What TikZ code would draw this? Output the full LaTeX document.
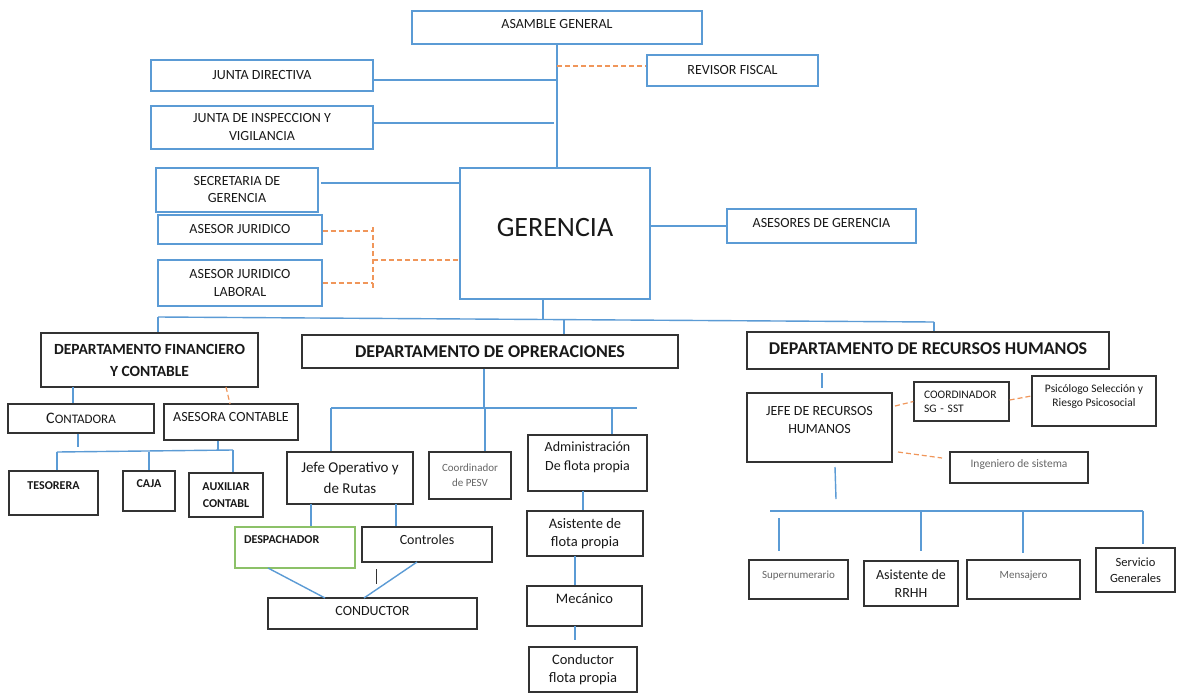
\documentclass[tikz,border=0pt]{standalone}
\usepackage{fontspec}
\setmainfont{Carlito}
\usetikzlibrary{positioning}

\definecolor{lineblue}{HTML}{5B9BD5}
\definecolor{dashorange}{HTML}{F0965A}
\definecolor{lightgreen}{HTML}{8CC168}

\tikzset{
	bluebox/.style={draw=lineblue, line width=1.3pt, fill=white, inner sep=0pt, align=center, text=black!90},
	darkbox/.style={draw=black!80, line width=1.3pt, fill=white, inner sep=0pt, align=center, text=black!90},
	greenbox/.style={draw=lightgreen, line width=1.3pt, fill=white, inner sep=0pt, text=black!90},
	conn/.style={draw=lineblue, line width=1.4pt},
	orangedash/.style={draw=dashorange, line width=1.2pt, dash pattern=on 5pt off 3pt},
	greytext/.style={text=black!60}
}

\begin{document}
\begin{tikzpicture}[x=1pt,y=-1pt]
		\useasboundingbox (0,0) rectangle (1177,696);
		\fill[white] (0,0) rectangle (1177,696);

		\node[bluebox, minimum width=290, minimum height=33, text depth=7, font=\fontsize{14}{18}\selectfont] (asamblea) at (557,27.5) {ASAMBLE GENERAL};
		\node[bluebox, minimum width=222, minimum height=31, font=\fontsize{14}{18}\selectfont] (junta) at (262,75.5) {JUNTA DIRECTIVA};
		\node[bluebox, minimum width=222, minimum height=43, font=\fontsize{14}{18}\selectfont] (inspeccion) at (262,127.5) {JUNTA DE INSPECCION Y\\VIGILANCIA};
		\node[bluebox, minimum width=171, minimum height=31, font=\fontsize{14}{18}\selectfont] (revisor) at (732.5,70.5) {REVISOR FISCAL};
		\node[bluebox, minimum width=162, minimum height=44, font=\fontsize{14}{17}\selectfont] (secretaria) at (237,190) {SECRETARIA DE\\GERENCIA};
		\node[bluebox, minimum width=164, minimum height=29, font=\fontsize{14}{18}\selectfont] (juridico) at (240,229.5) {ASESOR JURIDICO};
		\node[bluebox, minimum width=164, minimum height=46, font=\fontsize{14}{18}\selectfont] (laboral) at (240,283) {ASESOR JURIDICO\\LABORAL};
		\node[bluebox, minimum width=190, minimum height=131, text depth=13, font=\fontsize{28}{32}\selectfont] (gerencia) at (555,233.5) {GERENCIA};
		\node[bluebox, minimum width=189, minimum height=34, text depth=6, font=\fontsize{14}{18}\selectfont] (asesores) at (821.5,226) {ASESORES DE GERENCIA};

		\node[darkbox, minimum width=217, minimum height=54, font=\bfseries\fontsize{15.5}{22}\selectfont] (dfc) at (149.5,360) {DEPARTAMENTO FINANCIERO\\Y CONTABLE};
		\node[darkbox, minimum width=376, minimum height=33, font=\bfseries\fontsize{18}{22}\selectfont] (dops) at (490,351.5) {DEPARTAMENTO DE OPRERACIONES};
		\node[darkbox, minimum width=362, minimum height=37, text depth=4, font=\bfseries\fontsize{18}{22}\selectfont] (drrhh) at (928,350.5) {DEPARTAMENTO DE RECURSOS HUMANOS};

		\node[darkbox, minimum width=146, minimum height=29] (contadora) at (81,418.5) {{\fontsize{16}{18}\selectfont C}{\fontsize{13}{16}\selectfont ONTADORA}};
		\node[darkbox, minimum width=134, minimum height=36, text depth=10, font=\fontsize{14}{18}\selectfont] (asesora) at (231,422) {ASESORA CONTABLE};
		\node[darkbox, minimum width=89, minimum height=44, text depth=14, font=\bfseries\fontsize{12}{17}\selectfont] (tesorera) at (53.5,493) {TESORERA};
		\node[darkbox, minimum width=52, minimum height=40, text depth=14, font=\bfseries\fontsize{12}{17}\selectfont] (caja) at (149,491) {CAJA};
		\node[darkbox, minimum width=74, minimum height=44, font=\bfseries\fontsize{12}{17}\selectfont] (auxiliar) at (226,495) {AUXILIAR\\CONTABL};

		\node[darkbox, minimum width=126, minimum height=52, font=\fontsize{15}{21}\selectfont] (jefeop) at (350,478) {Jefe Operativo y\\de Rutas};
		\node[darkbox, greytext, minimum width=82, minimum height=47, font=\fontsize{11}{15}\selectfont] (pesv) at (470,475.5) {Coordinador\\de PESV};
		\node[darkbox, minimum width=119, minimum height=56, text depth=14, font=\fontsize{14}{19}\selectfont] (admin) at (587.5,463) {Administración\\De flota propia};
		\node[greenbox, minimum height=41, inner xsep=9pt, text width=102, align=left, text depth=15, font=\bfseries\fontsize{12}{14}\selectfont] (despachador) at (295,547.5) {DESPACHADOR};
		\node[darkbox, minimum width=130, minimum height=35, text depth=9, font=\fontsize{14}{18}\selectfont] (controles) at (427,544.5) {Controles};
		\node[darkbox, minimum width=209, minimum height=31, text depth=5, font=\fontsize{14}{18}\selectfont] (conductor) at (372.5,613.5) {CONDUCTOR};
		\node[darkbox, minimum width=116, minimum height=45, font=\fontsize{14.5}{18}\selectfont] (asistflota) at (585,533.5) {Asistente de\\flota propia};
		\node[darkbox, minimum width=115, minimum height=40, text depth=14, font=\fontsize{14.5}{18}\selectfont] (mecanico) at (584.5,606) {Mecánico};
		\node[darkbox, minimum width=108, minimum height=45, font=\fontsize{14.5}{18}\selectfont] (condflota) at (583,669.5) {Conductor\\flota propia};

		\node[darkbox, minimum width=145, minimum height=69, text depth=15, font=\fontsize{14}{18}\selectfont] (jeferrhh) at (819.5,427.5) {JEFE DE RECURSOS\\HUMANOS};
		\node[darkbox, minimum height=39, inner xsep=10pt, text width=75, align=left, font=\fontsize{11.5}{14}\selectfont] (coordsst) at (961.5,401.5) {COORDINADOR\\SG - SST};
		\node[darkbox, minimum width=124, minimum height=50, text depth=10.5, font=\fontsize{11.5}{14}\selectfont] (psicologo) at (1094,401) {Psicólogo Selección y\\Riesgo Psicosocial};
		\node[darkbox, greytext, minimum width=138, minimum height=31, text depth=8.5, font=\fontsize{11.5}{14}\selectfont] (ingeniero) at (1019,467.5) {Ingeniero de sistema};
		\node[darkbox, greytext, minimum width=99, minimum height=39, text depth=10, font=\fontsize{11}{14}\selectfont] (supernum) at (798.5,579.5) {Supernumerario};
		\node[darkbox, minimum width=94, minimum height=45, font=\fontsize{14}{18}\selectfont] (asistrrhh) at (911,583.5) {Asistente de\\RRHH};
		\node[darkbox, greytext, minimum width=113, minimum height=39, text depth=10, font=\fontsize{11}{14}\selectfont] (mensajero) at (1023.5,579.5) {Mensajero};
		\node[darkbox, minimum width=79, minimum height=44, font=\fontsize{12.5}{16}\selectfont] (servicio) at (1135.5,570) {Servicio\\Generales};

		\coordinate (gA) at (557,66);
		\coordinate (gB) at (557,80);
		\coordinate (gC) at (554,123);
		\coordinate (gS) at (321,183);
		\coordinate (ajT) at (373,227);
		\coordinate (ajM) at (373,260);
		\coordinate (ajB) at (373,288);
		\coordinate (gD) at (543,319.5);
		\coordinate (busL) at (158,317);
		\coordinate (busM) at (564,320);
		\coordinate (busR) at (934,322);

		\draw[conn] (asamblea.south) -- (asamblea.south |- gerencia.north);
		\draw[conn] (junta.east |- gB) -- (gB);
		\draw[conn] (inspeccion.east |- gC) -- (gC);
		\draw[orangedash] (gA) -- (revisor.west |- gA);
		\draw[conn] (gS) -- (gerencia.west |- gS);
		\draw[orangedash] ([yshift=-1.5pt]juridico.east) -- ([yshift=-1.5pt]juridico.east -| ajT);
		\draw[orangedash] (laboral.east) -- (laboral.east -| ajT);
		\draw[orangedash] (ajT) -- (ajB);
		\draw[orangedash] (ajM) -- (gerencia.west |- ajM);
		\draw[conn] (gerencia.east |- asesores.west) -- (asesores.west);
		\draw[conn] (gerencia.south -| gD) -- (gD);
		\draw[conn] (busL) -- (busR);
		\draw[conn] (busL) -- (busL |- dfc.north);
		\draw[conn] (busM) -- (busM |- dops.north);
		\draw[conn] (busR) -- (busR |- drrhh.north);

		\coordinate (fA) at (73,387);
		\coordinate (fB) at (226,387);
		\coordinate (fC) at (230,404);
		\coordinate (cA) at (78,447);
		\coordinate (cL) at (57,452);
		\coordinate (cR) at (233,450);
		\coordinate (cS) at (218,451);

		\draw[conn] (fA) -- (fA |- contadora.north);
		\draw[orangedash] (fB) -- (fC);
		\draw[conn] (contadora.south -| cA) -- (cA);
		\draw[conn] (cL) -- (cR);
		\draw[conn] (cL) -- (cL |- tesorera.north);
		\draw[conn] (caja.north |- cL) -- (caja.north);
		\draw[conn] (cR) -- (cR |- auxiliar.north);
		\draw[conn] (asesora.south -| cS) -- (cS);

		\coordinate (oA) at (484,408);
		\coordinate (oL) at (331,408);
		\coordinate (oB) at (485,408);
		\coordinate (oC) at (612,408);
		\coordinate (oR) at (637,408);
		\coordinate (opA) at (311,504);
		\coordinate (opB) at (396,504);
		\coordinate (dA) at (268,568);
		\coordinate (dB) at (325,598);
		\coordinate (kA) at (417,562);
		\coordinate (kB) at (364,598);
		\coordinate (tA) at (376,569);
		\coordinate (tB) at (376,584);
		\coordinate (aA) at (583,491);
		\coordinate (aB) at (575,556);
		\coordinate (aC) at (575,626);
		\coordinate (aD) at (575,640);

		\draw[conn] (dops.south -| oA) -- (oA);
		\draw[conn] (oL) -- (oR);
		\draw[conn] (oL) -- (oL |- jefeop.north);
		\draw[conn] (oB) -- (oB |- pesv.north);
		\draw[conn] (oC) -- (oC |- admin.north);
		\draw[conn] (opA) -- (opA |- despachador.north);
		\draw[conn] (opB) -- (opB |- controles.north);
		\draw[conn] (dA) -- (dB);
		\draw[conn] (kA) -- (kB);
		\draw[black!80, line width=1pt] (tA) -- (tB);
		\draw[conn] (aA) -- (aA |- asistflota.north);
		\draw[conn] (aB) -- (aB |- mecanico.north);
		\draw[conn] (aC) -- (aD);

		\coordinate (rA) at (822,373);
		\coordinate (rB) at (822,388);
		\coordinate (rC) at (895,406);
		\coordinate (rD) at (898,452);
		\coordinate (rE) at (942,458);
		\coordinate (rF) at (835,467);
		\coordinate (rG) at (836,499);
		\coordinate (hL) at (770,511);
		\coordinate (hR) at (1143,511);
		\coordinate (hA) at (779,518);
		\coordinate (hB) at (779,551);
		\coordinate (hC) at (921,511);
		\coordinate (hD) at (921,551);
		\coordinate (hE) at (1023,511);
		\coordinate (hF) at (1023,553);
		\coordinate (hG) at (1143,544);

		\draw[conn] (rA) -- (rB);
		\draw[orangedash] (rC) -- (coordsst.west);
		\draw[orangedash] ([yshift=1.5pt]coordsst.east) -- ([yshift=5pt]psicologo.west);
		\draw[orangedash] (rD) -- (rE);
		\draw[conn] (rF) -- (rG);
		\draw[conn] (hL) -- (hR);
		\draw[conn] (hA) -- (hB);
		\draw[conn] (hC) -- (hD);
		\draw[conn] (hE) -- (hF);
		\draw[conn] (hR) -- (hG);
	\end{tikzpicture}
\end{document}
